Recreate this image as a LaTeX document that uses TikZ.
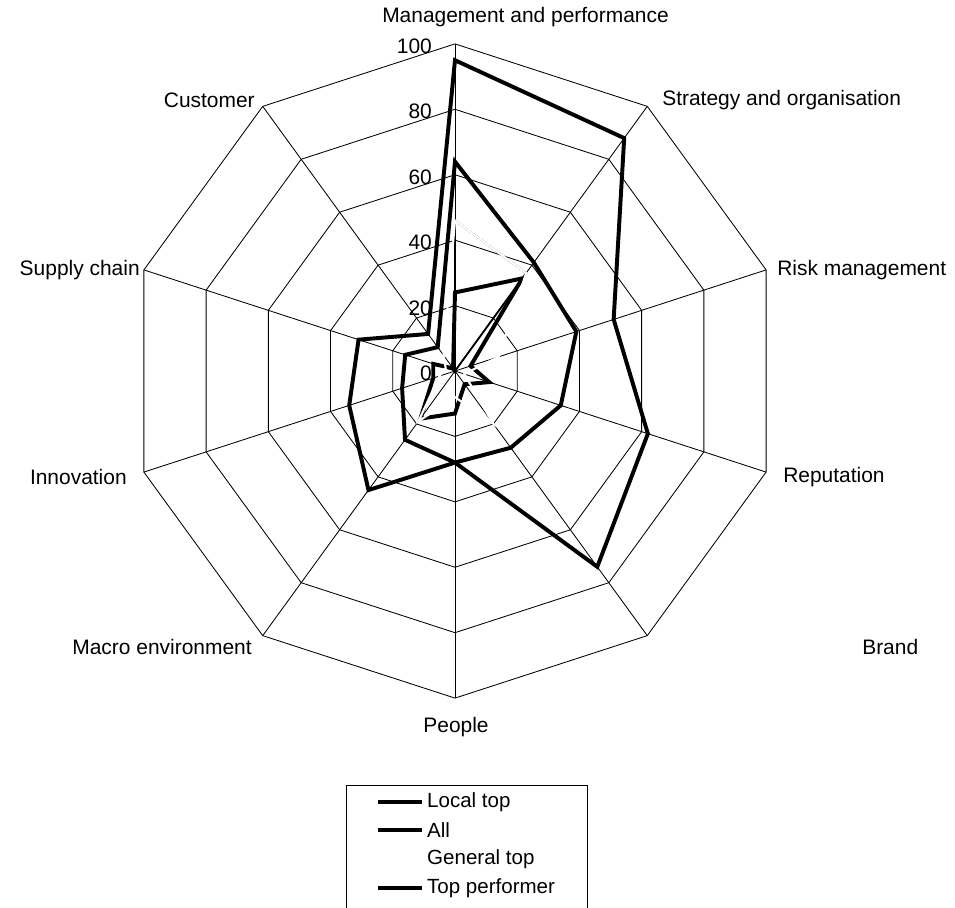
\documentclass[tikz,border=0pt]{standalone}
\usepackage{fontspec}
\setmainfont{Liberation Sans}
\usetikzlibrary{positioning}

\begin{document}
\begin{tikzpicture}[
 x=0.025cm,y=0.025cm,
 grid/.style={line width=0.6pt},
 series/.style={line width=2.8pt},
 thinseries/.style={line width=1.3pt},
 hiddenseries/.style={line width=1.5pt,white},
 axlabel/.style={font=\fontsize{14.9}{17}\selectfont,inner sep=0pt},
 ticklabel/.style={font=\fontsize{14.9}{17}\selectfont,anchor=east,inner sep=0pt},
 legtext/.style={font=\fontsize{14.6}{17}\selectfont,anchor=west,inner sep=0pt}
]
\useasboundingbox (-455,-537) rectangle (500,371);

% chart, radius in percent
\begin{scope}[x=0.08175cm,y=0.08175cm]
\coordinate (c) at (0,0);
\foreach \a [count=\i] in {90,54,18,-18,-54,-90,-126,-162,162,126}
  \coordinate (v\i) at (\a:100);
\foreach \k in {20,40,60,80,100}
  \draw[grid] (90:\k) \foreach \a in {54,18,...,-234}{ -- (\a:\k)} -- cycle;
\foreach \i in {1,...,10} \draw[grid] (c) -- (v\i);

% Local top
\draw[series] (90:95) \foreach \v [count=\i] in {88,51,62,74,28,45,34,31,14}{ -- ({90-36*\i}:\v)} -- cycle;
% All
\draw[series] (90:64) \foreach \v [count=\i] in {41,39,34,29,28,26,17,16,9}{ -- ({90-36*\i}:\v)} -- cycle;
% third thick line
\draw[series] (90:24) \foreach \v [count=\i] in {35,5,11,5,13,18,7,7,1}{ -- ({90-36*\i}:\v)} -- cycle;
% Top performer
\draw[thinseries] (90:46) -- (54:37) -- (c) -- cycle;
% General top (white)
\draw[hiddenseries] (90:46) \foreach \v [count=\i] in {37,14,3,20,8,19,5,3,6}{ -- ({90-36*\i}:\v)} -- cycle;

\foreach \k in {0,20,40,60,80,100}
  \node[ticklabel] (tk\k) at (-7,{\k-0.7}) {\k};
\end{scope}

% category labels
\node[axlabel,anchor=west] (mgmt) at (-73,354) {Management and performance};
\node[axlabel,anchor=west] (strat) at (207,271) {Strategy and organisation};
\node[axlabel,anchor=west] (risk) at (322,101) {Risk management};
\node[axlabel,anchor=west] (rep) at (328,-106) {Reputation};
\node[axlabel,anchor=west] (brand) at (407,-276) {Brand};
\node[axlabel] (people) at (1,-356) {People};
\node[axlabel,anchor=east] (macro) at (-203,-276) {Macro environment};
\node[axlabel,anchor=east] (innov) at (-328,-106) {Innovation};
\node[axlabel,anchor=east] (supply) at (-315,101) {Supply chain};
\node[axlabel,anchor=east] (cust) at (-200,271) {Customer};

% legend
\draw[grid] (-109,-545) -- (-109,-414) -- (132,-414) -- (132,-545);
\coordinate (k1a) at (-77,-431); \coordinate (k1b) at (-33,-431);
\coordinate (k2a) at (-77,-459); \coordinate (k2b) at (-33,-459);
\coordinate (k3a) at (-77,-488); \coordinate (k3b) at (-33,-488);
\coordinate (k4a) at (-77,-517); \coordinate (k4b) at (-33,-517);
\draw[series] (k1a) -- (k1b);
\draw[series] (k2a) -- (k2b);
\draw[hiddenseries] (k3a) -- (k3b);
\draw[line width=2.2pt] (k4a) -- (k4b);
\node[legtext,right=3.5pt of k1b] (l1) {Local top};
\node[legtext,right=3.5pt of k2b] (l2) {All};
\node[legtext,right=3.5pt of k3b] (l3) {General top};
\node[legtext,right=3.5pt of k4b] (l4) {Top performer};
\end{tikzpicture}
\end{document}
